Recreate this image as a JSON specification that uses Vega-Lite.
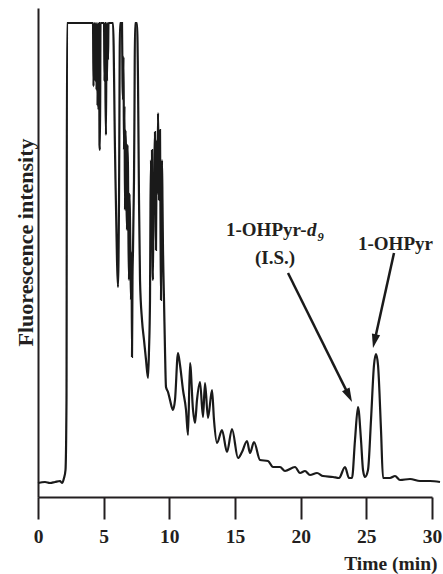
{
  "$schema": "https://vega.github.io/schema/vega-lite/v6.json",
  "autosize": {"type": "none"},
  "padding": {"left": 38, "top": 8, "right": 11, "bottom": 77},
  "width": 394,
  "height": 489,
  "background": "white",
  "config": {"view": {"stroke": null}},
  "layer": [
    {
      "data": {"values": [
        {"t": 0, "v": 2.86}, {"t": 0.533, "v": 3.07}, {"t": 0.914, "v": 2.86}, {"t": 1.294, "v": 3.07},
        {"t": 1.675, "v": 3.27}, {"t": 1.827, "v": 2.86}, {"t": 1.98, "v": 3.89}, {"t": 2.094, "v": 5.52},
        {"t": 2.17, "v": 19.84}, {"t": 2.208, "v": 96.93}, {"t": 4.188, "v": 96.93}, {"t": 4.226, "v": 84},
        {"t": 4.264, "v": 96.93}, {"t": 4.302, "v": 87.93}, {"t": 4.34, "v": 96.93}, {"t": 4.378, "v": 85},
        {"t": 4.416, "v": 96.93}, {"t": 4.455, "v": 83.23}, {"t": 4.493, "v": 96.93}, {"t": 4.531, "v": 80},
        {"t": 4.569, "v": 96.93}, {"t": 4.607, "v": 79.14}, {"t": 4.645, "v": 96.93}, {"t": 4.683, "v": 72},
        {"t": 4.721, "v": 70.96}, {"t": 4.759, "v": 96.93}, {"t": 5.026, "v": 96.93}, {"t": 5.064, "v": 85},
        {"t": 5.102, "v": 96.93}, {"t": 5.14, "v": 81.19}, {"t": 5.178, "v": 74.03}, {"t": 5.216, "v": 96.93},
        {"t": 5.254, "v": 85}, {"t": 5.292, "v": 96.93}, {"t": 5.33, "v": 89.37}, {"t": 5.368, "v": 96.93},
        {"t": 5.711, "v": 96.93}, {"t": 5.863, "v": 70.96}, {"t": 6.015, "v": 48.47}, {"t": 6.092, "v": 42.94},
        {"t": 6.168, "v": 60.74}, {"t": 6.244, "v": 96.93}, {"t": 6.396, "v": 96.93}, {"t": 6.434, "v": 85},
        {"t": 6.472, "v": 81.19}, {"t": 6.51, "v": 90}, {"t": 6.548, "v": 70.96}, {"t": 6.586, "v": 80},
        {"t": 6.625, "v": 58.69}, {"t": 6.663, "v": 75}, {"t": 6.701, "v": 70.96}, {"t": 6.739, "v": 60},
        {"t": 6.777, "v": 54.6}, {"t": 6.815, "v": 72}, {"t": 6.853, "v": 66.87}, {"t": 6.891, "v": 52},
        {"t": 6.929, "v": 44.38}, {"t": 6.967, "v": 62}, {"t": 7.005, "v": 56.65}, {"t": 7.043, "v": 48},
        {"t": 7.081, "v": 40.29}, {"t": 7.12, "v": 50}, {"t": 7.158, "v": 28.63}, {"t": 7.196, "v": 45},
        {"t": 7.234, "v": 50.51}, {"t": 7.272, "v": 58}, {"t": 7.31, "v": 64.83}, {"t": 7.348, "v": 80},
        {"t": 7.386, "v": 96.93}, {"t": 7.538, "v": 96.93}, {"t": 7.614, "v": 85.28}, {"t": 7.691, "v": 60.74},
        {"t": 7.767, "v": 44.38}, {"t": 7.919, "v": 36.2}, {"t": 8.071, "v": 32.11}, {"t": 8.224, "v": 28.02},
        {"t": 8.376, "v": 24.34}, {"t": 8.452, "v": 30.06}, {"t": 8.528, "v": 40.29}, {"t": 8.566, "v": 60},
        {"t": 8.604, "v": 68.92}, {"t": 8.642, "v": 55}, {"t": 8.68, "v": 70.96}, {"t": 8.718, "v": 50},
        {"t": 8.757, "v": 44.38}, {"t": 8.795, "v": 65}, {"t": 8.833, "v": 60.74}, {"t": 8.871, "v": 70},
        {"t": 8.909, "v": 74.64}, {"t": 8.947, "v": 58}, {"t": 8.985, "v": 50.51}, {"t": 9.023, "v": 68},
        {"t": 9.061, "v": 73.01}, {"t": 9.099, "v": 62}, {"t": 9.137, "v": 78.53}, {"t": 9.175, "v": 70},
        {"t": 9.213, "v": 60.74}, {"t": 9.251, "v": 72}, {"t": 9.29, "v": 75.05}, {"t": 9.328, "v": 55},
        {"t": 9.366, "v": 40.29}, {"t": 9.404, "v": 58}, {"t": 9.442, "v": 68.92}, {"t": 9.48, "v": 60},
        {"t": 9.518, "v": 50.51}, {"t": 9.556, "v": 45}, {"t": 9.594, "v": 40.29},
        {"t": 9.67, "v": 30.06}, {"t": 9.746, "v": 22.49}, {"t": 9.899, "v": 21.47}, {"t": 10.051, "v": 19.84},
        {"t": 10.28, "v": 17.79}, {"t": 10.432, "v": 19.84}, {"t": 10.66, "v": 29.45}, {"t": 10.813, "v": 26.99},
        {"t": 11.041, "v": 21.88}, {"t": 11.27, "v": 17.79}, {"t": 11.422, "v": 12.68}, {"t": 11.574, "v": 27.4},
        {"t": 11.803, "v": 17.79}, {"t": 11.955, "v": 15.13}, {"t": 12.107, "v": 19.84}, {"t": 12.336, "v": 23.52},
        {"t": 12.564, "v": 16.36}, {"t": 12.716, "v": 23.31}, {"t": 12.944, "v": 16.16}, {"t": 13.249, "v": 21.88},
        {"t": 13.401, "v": 15.75}, {"t": 13.63, "v": 11.04}, {"t": 14.01, "v": 13.7}, {"t": 14.391, "v": 9.2},
        {"t": 14.772, "v": 13.91}, {"t": 15.229, "v": 7.98}, {"t": 15.533, "v": 9.2}, {"t": 15.914, "v": 11.45},
        {"t": 16.142, "v": 9.0}, {"t": 16.447, "v": 11.25}, {"t": 16.904, "v": 7.57}, {"t": 17.513, "v": 7.36},
        {"t": 17.894, "v": 6.13}, {"t": 18.427, "v": 6.13}, {"t": 18.807, "v": 5.32}, {"t": 19.569, "v": 6.13},
        {"t": 19.95, "v": 4.91}, {"t": 20.33, "v": 5.32}, {"t": 20.711, "v": 4.5}, {"t": 21.244, "v": 4.91},
        {"t": 21.701, "v": 4.29}, {"t": 22.462, "v": 4.09}, {"t": 22.919, "v": 3.89}, {"t": 23.376, "v": 6.13},
        {"t": 23.681, "v": 3.89}, {"t": 23.909, "v": 3.89}, {"t": 24.137, "v": 11.66}, {"t": 24.366, "v": 18.4},
        {"t": 24.594, "v": 11.66}, {"t": 24.747, "v": 5.52}, {"t": 24.899, "v": 4.09}, {"t": 25.127, "v": 5.52},
        {"t": 25.356, "v": 15.75}, {"t": 25.584, "v": 26.99}, {"t": 25.736, "v": 29.24}, {"t": 25.889, "v": 26.99},
        {"t": 26.117, "v": 13.7}, {"t": 26.27, "v": 3.89}, {"t": 26.803, "v": 3.89}, {"t": 27.184, "v": 4.29},
        {"t": 27.564, "v": 3.48}, {"t": 28.326, "v": 3.68}, {"t": 29.087, "v": 3.27}, {"t": 29.849, "v": 3.27},
        {"t": 30.61, "v": 3.07}
      ]},
      "mark": {"type": "line", "color": "#1a1a1a", "strokeWidth": 2.2, "interpolate": "monotone"},
      "encoding": {
        "x": {
          "field": "t", "type": "quantitative",
          "scale": {"domain": [0, 30], "nice": false, "zero": false},
          "axis": {
            "values": [0, 5, 10, 15, 20, 25, 30],
            "grid": false,
            "domainColor": "#231f20", "domainWidth": 2,
            "tickColor": "#231f20", "tickWidth": 2, "tickSize": 22,
            "labelFont": "Liberation Serif", "labelFontWeight": "bold", "labelFontSize": 19.5,
            "labelColor": "#231f20", "labelBaseline": "alphabetic", "labelPadding": 23.5,
            "labelFlush": false, "labelOverlap": false,
            "title": "Time (min)",
            "titleFont": "Liberation Serif", "titleFontWeight": "bold", "titleFontSize": 19.5,
            "titleColor": "#231f20", "titleAnchor": "end", "titleAlign": "right",
            "titleBaseline": "alphabetic", "titleX": 399, "titleY": 72
          }
        },
        "y": {
          "field": "v", "type": "quantitative",
          "scale": {"domain": [0, 100], "nice": false},
          "axis": {
            "ticks": false, "labels": false, "grid": false,
            "domainColor": "#231f20", "domainWidth": 2,
            "title": "Fluorescence intensity",
            "titleFont": "Liberation Serif", "titleFontWeight": "bold", "titleFontSize": 22,
            "titleColor": "#231f20", "titleAngle": -90, "titleAlign": "center",
            "titleBaseline": "middle", "titleX": -13, "titleY": 234
          }
        }
      }
    },
    {
      "data": {"values": [
        {"label": "1-OHPyr-", "t": 14.315, "v": 53.37},
        {"label": "(I.S.)", "t": 16.523, "v": 47.65},
        {"label": "1-OHPyr", "t": 24.366, "v": 50.61}
      ]},
      "mark": {"type": "text", "font": "Liberation Serif", "fontWeight": "bold", "fontSize": 19, "align": "left", "baseline": "alphabetic", "color": "#231f20"},
      "encoding": {
        "x": {"field": "t", "type": "quantitative"},
        "y": {"field": "v", "type": "quantitative"},
        "text": {"field": "label"}
      }
    },
    {
      "data": {"values": [{"label": "d", "t": 20.483, "v": 53.37}]},
      "mark": {"type": "text", "font": "Liberation Serif", "fontWeight": "bold", "fontStyle": "italic", "fontSize": 19, "align": "left", "baseline": "alphabetic", "color": "#231f20"},
      "encoding": {
        "x": {"field": "t", "type": "quantitative"},
        "y": {"field": "v", "type": "quantitative"},
        "text": {"field": "label"}
      }
    },
    {
      "data": {"values": [{"label": "9", "t": 21.282, "v": 52.35}]},
      "mark": {"type": "text", "font": "Liberation Serif", "fontWeight": "bold", "fontStyle": "italic", "fontSize": 12.5, "align": "left", "baseline": "alphabetic", "color": "#231f20"},
      "encoding": {
        "x": {"field": "t", "type": "quantitative"},
        "y": {"field": "v", "type": "quantitative"},
        "text": {"field": "label"}
      }
    },
    {
      "data": {"values": [
        {"t": 19.036, "v": 45.81, "t2": 23.673, "v2": 20.72},
        {"t": 27.107, "v": 49.9, "t2": 25.622, "v2": 31.86}
      ]},
      "mark": {"type": "rule", "color": "#1a1a1a", "strokeWidth": 2.5},
      "encoding": {
        "x": {"field": "t", "type": "quantitative"},
        "y": {"field": "v", "type": "quantitative"},
        "x2": {"field": "t2"},
        "y2": {"field": "v2"}
      }
    },
    {
      "data": {"values": [{"t": 23.673, "v": 20.72}]},
      "mark": {"type": "point", "shape": "M0,-1L0.6,1L-0.6,1Z", "filled": true, "size": 196, "angle": 153.6, "color": "#1a1a1a", "opacity": 1},
      "encoding": {
        "x": {"field": "t", "type": "quantitative"},
        "y": {"field": "v", "type": "quantitative"}
      }
    },
    {
      "data": {"values": [{"t": 25.622, "v": 31.86}]},
      "mark": {"type": "point", "shape": "M0,-1L0.6,1L-0.6,1Z", "filled": true, "size": 196, "angle": 192.5, "color": "#1a1a1a", "opacity": 1},
      "encoding": {
        "x": {"field": "t", "type": "quantitative"},
        "y": {"field": "v", "type": "quantitative"}
      }
    }
  ]
}
